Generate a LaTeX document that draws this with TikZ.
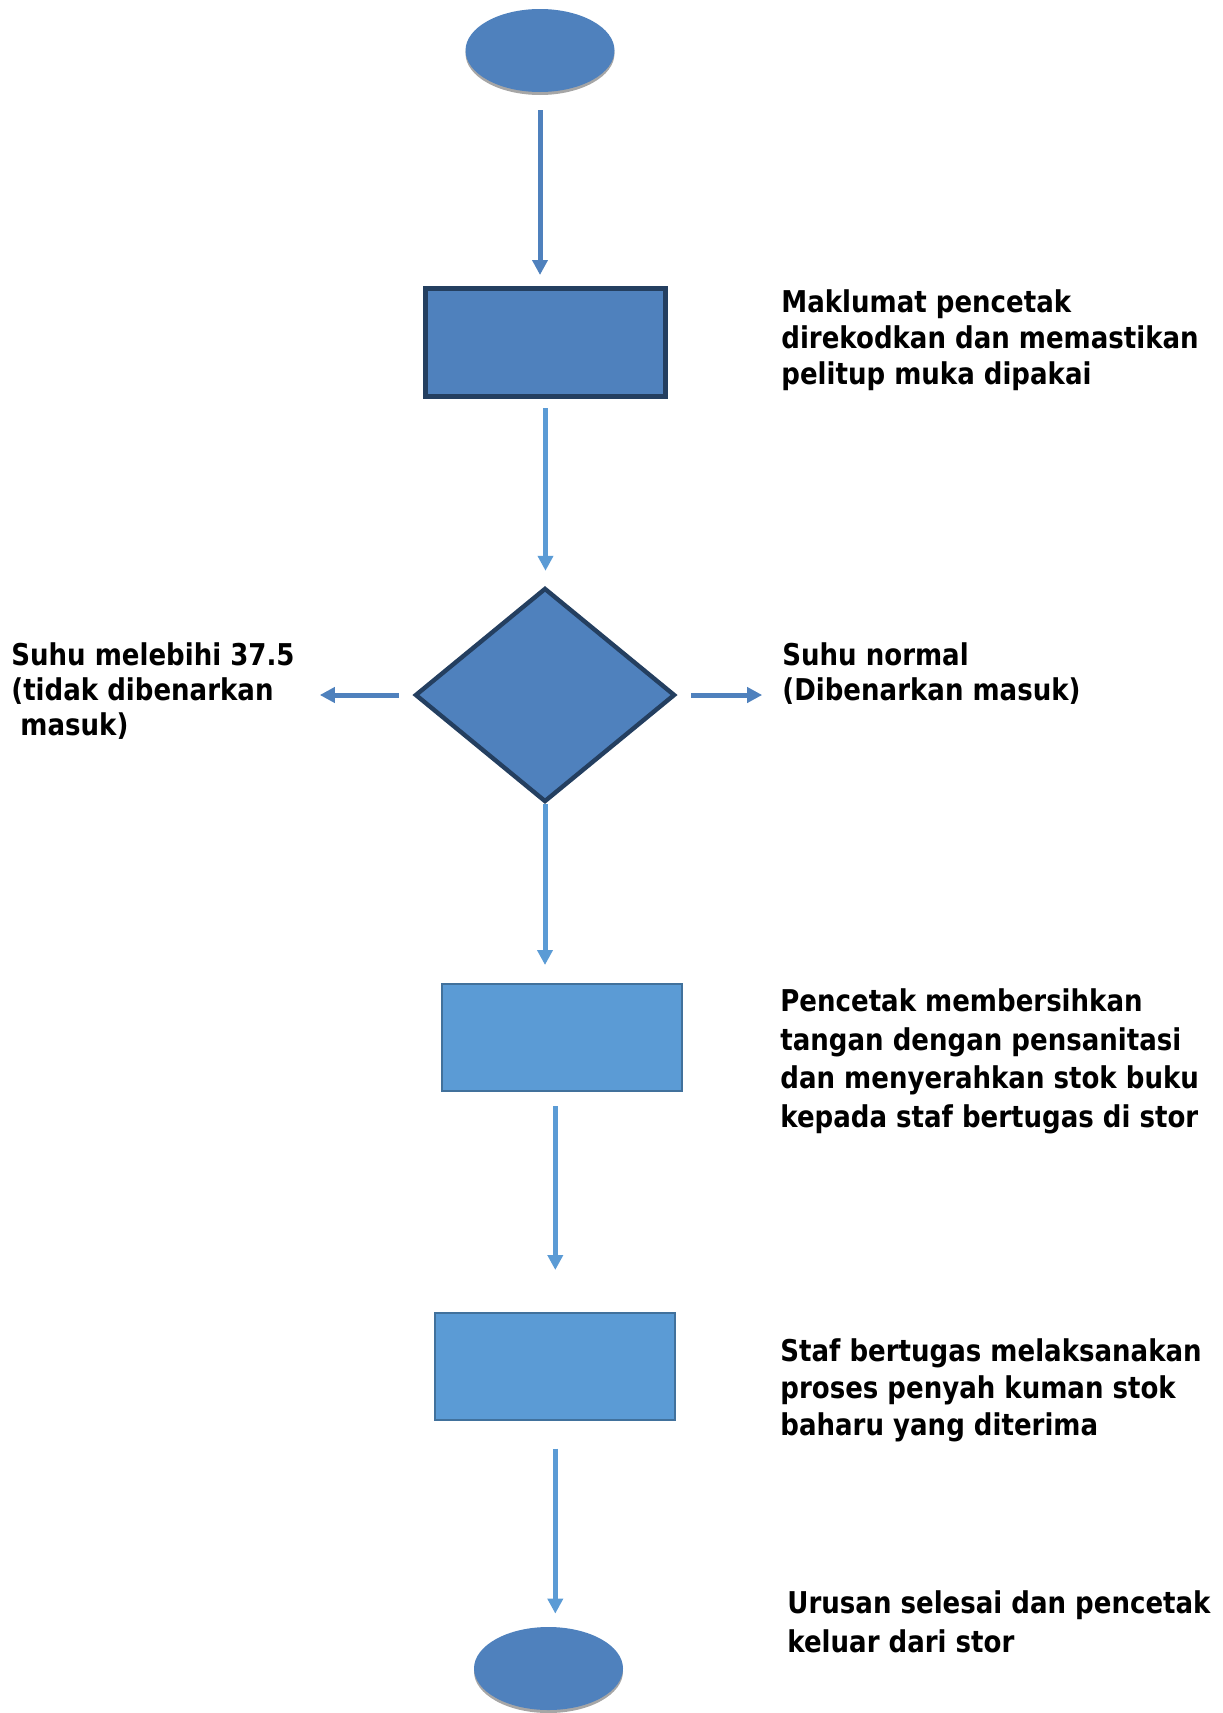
\documentclass[tikz,border=0pt]{standalone}
\usepackage{fontspec}
\setmainfont{DejaVu Sans}[FakeStretch=0.868]
\usepackage{xcolor}
\usepackage{tikz}
\usetikzlibrary{arrows.meta,positioning,shapes.geometric,shadows}
\definecolor{fcBlue}{HTML}{4F81BD}
\definecolor{fcSky}{HTML}{5B9BD5}
\definecolor{fcNavy}{HTML}{243F60}
\definecolor{fcEdge}{HTML}{41719C}
\definecolor{fcShadow}{HTML}{A6A6A6}
\tikzset{
  fc diagram/.style={x=0.5pt, y=-0.5pt, line join=miter},
  fc terminal/.style={ellipse, fill=fcBlue, minimum width=74.5pt,
    minimum height=41.5pt, inner sep=0pt,
    drop shadow={shadow xshift=0pt, shadow yshift=-1.5pt, fill=fcShadow, opacity=1}},
  fc key box/.style={rectangle, draw=fcNavy, fill=fcBlue, line width=2.5pt,
    minimum width=120pt, minimum height=54pt, inner sep=0pt},
  fc box/.style={rectangle, draw=fcEdge, fill=fcSky, line width=1pt,
    minimum width=120pt, minimum height=53.5pt, inner sep=0pt},
  fc decision/.style={diamond, draw=fcNavy, fill=fcBlue, line width=2.2pt,
    minimum width=130pt, minimum height=107pt, inner sep=0pt},
  fc arrow/.style={-{Triangle[length=7.5pt,width=7.5pt]}, draw=fcBlue, line width=2.5pt},
  fc arrow light/.style={fc arrow, draw=fcSky},
  fc note/.style={anchor=base west, align=left, inner sep=0pt,
    font=\bfseries\fontsize{15}{#1}\selectfont},
  fc note/.default=18pt
}

\begin{document}
\begin{tikzpicture}[fc diagram]
\useasboundingbox (0,0) rectangle (1222,1713);
% flow shapes
\node[fc terminal] (start) at (540,50.5) {};
\node[fc key box] (info) at (545.5,342.5) {};
\node[fc decision] (check) at (545,695) {};
\node[fc box] (wash) at (562,1037.5) {};
\node[fc box] (disinfect) at (555.3,1366) {};
\node[fc terminal] (finish) at (548.5,1668.5) {};
\coordinate[left=46.5pt of check.west] (reject);
\coordinate[right=42.5pt of check.east] (admit);
% connectors
\draw[fc arrow, shorten <=9pt, shorten >=5.5pt] (start.south) -- (start.south |- info.north);
\draw[fc arrow light, shorten <=4.5pt, shorten >=7.5pt] (info.south) -- (info.south |- check.north);
\draw[fc arrow, shorten <=7pt] (check.west) -- (reject);
\draw[fc arrow, shorten <=7pt] (check.east) -- (admit);
\draw[fc arrow light, shorten >=9pt] (check.south) -- (check.south |- wash.north);
\draw[fc arrow light, shorten <=7pt, shorten >=20.75pt] (disinfect.north |- wash.south) -- (disinfect.north);
\draw[fc arrow light, shorten <=14pt, shorten >=6.5pt] (disinfect.south) -- (disinfect.south |- finish.north);
% notes (anchored on the baseline of their last line)
\node[fc note] (info note) at (781,384) {Maklumat pencetak\\direkodkan dan memastikan\\pelitup muka dipakai};
\node[fc note=17.5pt] (reject note) at (11,735) {Suhu melebihi 37.5\\(tidak dibenarkan\\~masuk)};
\node[fc note=17.5pt] (admit note) at (782,700) {Suhu normal\\(Dibenarkan masuk)};
\node[fc note=19.25pt] (wash note) at (780,1127) {Pencetak membersihkan\\tangan dengan pensanitasi\\dan menyerahkan stok buku\\kepada staf bertugas di stor};
\node[fc note=18.5pt] (disinfect note) at (780,1435) {Staf bertugas melaksanakan\\proses penyah kuman stok\\baharu yang diterima};
\node[fc note=19.5pt] (finish note) at (787,1652) {Urusan selesai dan pencetak\\keluar dari stor};
\end{tikzpicture}
\end{document}
